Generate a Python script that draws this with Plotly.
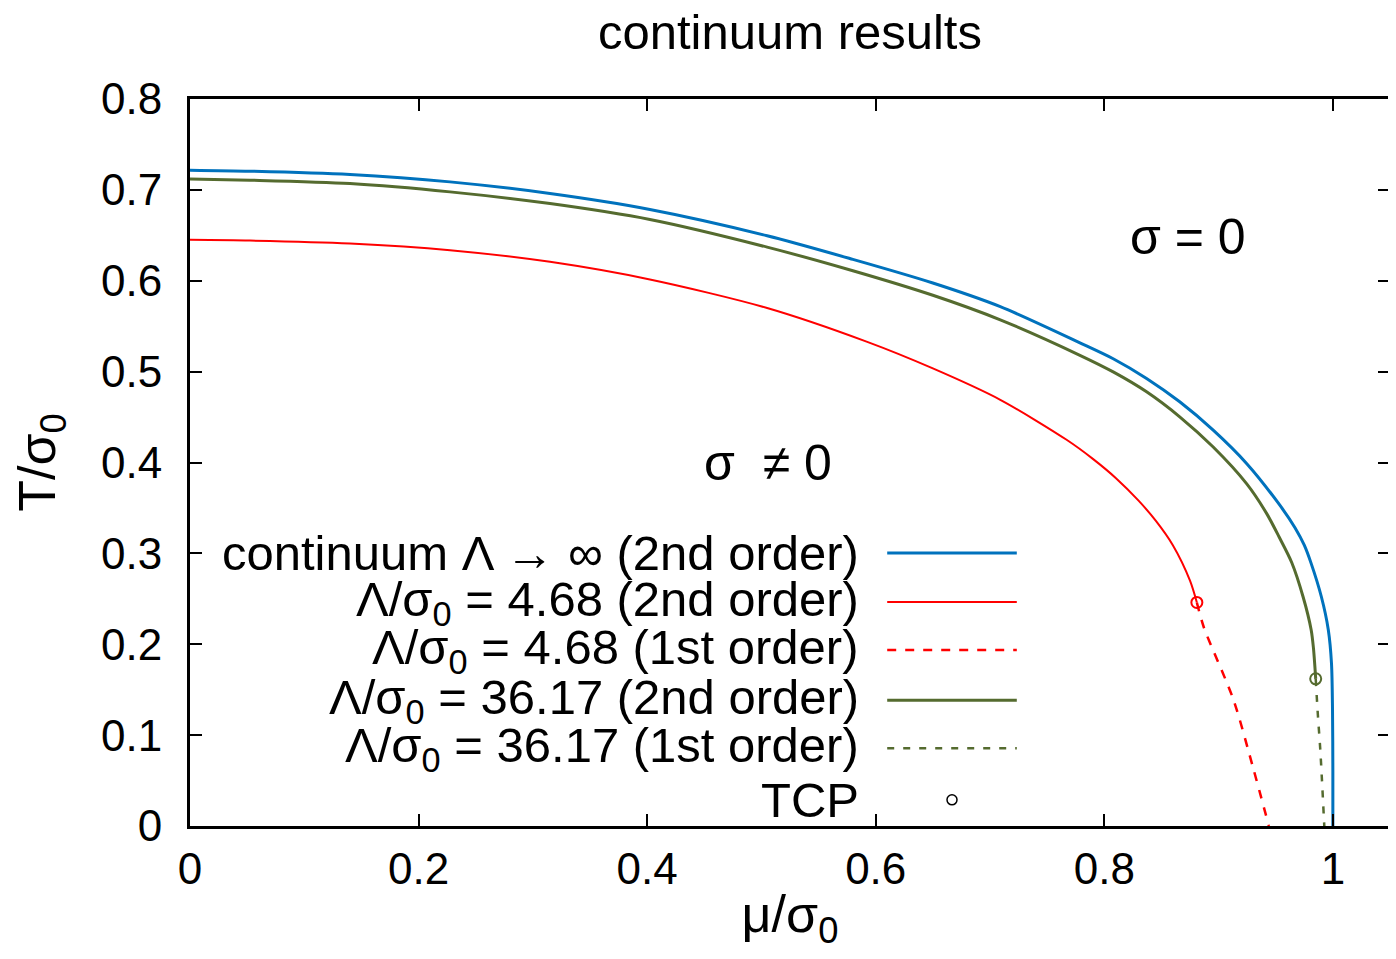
import plotly.graph_objects as go

# continuum Lambda -> infinity, second order line
mu_cont = [0.0, 0.0525, 0.14, 0.2275, 0.315, 0.4024, 0.505, 0.58, 0.65, 0.709, 0.7787,
           0.8078, 0.837, 0.866, 0.8953, 0.9245, 0.9536, 0.967, 0.975, 0.981, 0.990,
           0.996, 0.9988, 0.9997, 1.0, 1.0]
T_cont = [0.7217, 0.7206, 0.7169, 0.7088, 0.696, 0.6784, 0.6495, 0.6235, 0.5975, 0.5715,
          0.5317, 0.5142, 0.4925, 0.4668, 0.4356, 0.399, 0.353, 0.328, 0.309, 0.289,
          0.252, 0.216, 0.179, 0.128, 0.06, 0.0]

# Lambda/sigma0 = 4.68
mu_468_2nd = [0.0, 0.0525, 0.14, 0.2275, 0.315, 0.4024, 0.505, 0.592, 0.65, 0.709,
              0.767, 0.79, 0.81, 0.83, 0.845, 0.86, 0.875, 0.881]
T_468_2nd = [0.645, 0.6442, 0.641, 0.6337, 0.6208, 0.6014, 0.570, 0.533, 0.5035, 0.469,
             0.425, 0.404, 0.383, 0.358, 0.336, 0.309, 0.270, 0.246]
mu_468_1st = [0.881, 0.887, 0.913, 0.930, 0.944]
T_468_1st = [0.246, 0.219, 0.139, 0.065, 0.0]

# Lambda/sigma0 = 36.17
mu_3617_2nd = [0.0, 0.0525, 0.14, 0.2275, 0.315, 0.4024, 0.505, 0.58, 0.65, 0.709,
               0.7787, 0.8078, 0.837, 0.866, 0.8953, 0.9245, 0.942, 0.953, 0.964, 0.974,
               0.981, 0.983, 0.985]
T_3617_2nd = [0.712, 0.7107, 0.707, 0.6978, 0.6849, 0.6674, 0.637, 0.611, 0.584, 0.557,
              0.518, 0.4997, 0.4778, 0.4503, 0.417, 0.3767, 0.344, 0.318, 0.290, 0.252,
              0.216, 0.196, 0.162]
mu_3617_1st = [0.985, 0.987, 0.989, 0.9925]
T_3617_1st = [0.162, 0.12, 0.084, 0.0]

# tricritical points
tcp_mu = [0.881, 0.985]
tcp_T = [0.246, 0.162]

x_ticks = [0, 0.2, 0.4, 0.6, 0.8, 1.0]
x_ticktext = ["0", "0.2", "0.4", "0.6", "0.8", "1"]
y_ticks = [0, 0.1, 0.2, 0.3, 0.4, 0.5, 0.6, 0.7, 0.8]
y_ticktext = ["0", "0.1", "0.2", "0.3", "0.4", "0.5", "0.6", "0.7", "0.8"]

legend_labels = [
    "continuum Λ → ∞ (2nd order)",
    "Λ/σ<sub>0</sub> = 4.68 (2nd order)",
    "Λ/σ<sub>0</sub> = 4.68 (1st order)",
    "Λ/σ<sub>0</sub> = 36.17 (2nd order)",
    "Λ/σ<sub>0</sub> = 36.17 (1st order)",
    "TCP",
]

BLUE = "#0072bd"
RED = "#ff0000"
GREEN = "#556b2f"
FONT = "Liberation Sans, Arial, sans-serif"
TXT = 49

styles = [
    dict(color=BLUE, width=3, dash="solid"),
    dict(color=RED, width=2, dash="solid"),
    dict(color=RED, width=2.5, dash="9px,9px"),
    dict(color=GREEN, width=3, dash="solid"),
    dict(color=GREEN, width=2.5, dash="7px,9px"),
]

fig = go.Figure()
curves = [
    (mu_cont, T_cont),
    (mu_468_2nd, T_468_2nd),
    (mu_468_1st, T_468_1st),
    (mu_3617_2nd, T_3617_2nd),
    (mu_3617_1st, T_3617_1st),
]
for (xs, ys), st in zip(curves, styles):
    fig.add_trace(go.Scatter(x=xs, y=ys, mode="lines", showlegend=False,
                             line=dict(shape="spline", smoothing=0.8, **st)))

fig.add_trace(go.Scatter(
    x=tcp_mu, y=tcp_T, mode="markers", showlegend=False,
    marker=dict(symbol="circle-open", size=11, color=[RED, GREEN], line=dict(width=2)),
))

# gnuplot-like key: text on the left, sample on the right
shapes = []
annotations = []
row_y = [0.3755, 0.308, 0.242, 0.173, 0.107, 0.036]
for i, lab in enumerate(legend_labels):
    annotations.append(dict(
        xref="paper", yref="paper", x=0.559, y=row_y[i], text=lab,
        showarrow=False, xanchor="right", yanchor="middle",
        font=dict(size=TXT, color="black", family=FONT),
    ))
    if i < len(styles):
        shapes.append(dict(type="line", xref="paper", yref="paper",
                           x0=0.581, x1=0.689, y0=row_y[i], y1=row_y[i], line=styles[i]))
    else:
        shapes.append(dict(type="circle", xref="paper", yref="paper",
                           xsizemode="pixel", ysizemode="pixel",
                           xanchor=0.635, yanchor=row_y[i], x0=-5, x1=5, y0=-5, y1=5,
                           line=dict(color="black", width=1.5)))

annotations.append(dict(x=0.873, y=0.648, text="σ = 0", showarrow=False,
                        font=dict(size=50, color="black", family=FONT)))
annotations.append(dict(x=0.506, y=0.399, text="σ  ≠ 0", showarrow=False,
                        font=dict(size=50, color="black", family=FONT)))

axis_common = dict(
    showline=True, linecolor="black", linewidth=3, mirror="ticks",
    ticks="inside", ticklen=12, tickwidth=2, tickcolor="black",
    showgrid=False, zeroline=False, automargin=False,
    tickfont=dict(size=44, color="black", family=FONT),
)

fig.update_layout(
    width=1384, height=943,
    plot_bgcolor="white", paper_bgcolor="white",
    margin=dict(l=182, r=2, t=91, b=125),
    title=dict(text="continuum results", x=0.565, xanchor="center", y=0.975, yanchor="middle",
               font=dict(size=49, color="black", family=FONT)),
    xaxis=dict(range=[0, 1.05], tickvals=x_ticks, ticktext=x_ticktext,
               ticklabelstandoff=2,
               title=dict(text="μ/σ<sub>0</sub>", font=dict(size=52, color="black", family=FONT),
                          standoff=20),
               **axis_common),
    yaxis=dict(range=[0, 0.8], tickvals=y_ticks, ticktext=y_ticktext,
               ticklabelstandoff=16,
               title=dict(text="T/σ<sub>0</sub>", font=dict(size=52, color="black", family=FONT),
                          standoff=50),
               **axis_common),
    shapes=shapes,
    annotations=annotations,
)

fig.write_html("out.html")
